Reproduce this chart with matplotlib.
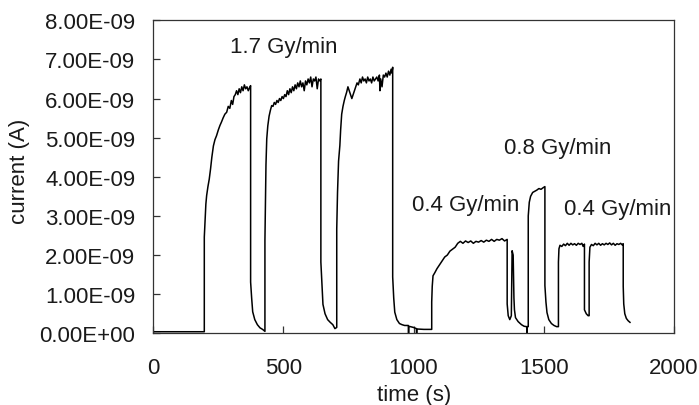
"""Courant mesure sous irradiation a differents debits de dose."""
import matplotlib
matplotlib.use("Agg")
import matplotlib.pyplot as plt
from matplotlib.ticker import FuncFormatter

plt.rcParams["font.family"] = ["Liberation Sans", "DejaVu Sans"]

# temps (s) et courant (nA)
time_s = [
    0, 196,
    # 1.7 Gy/min, palier 1
    196, 199, 202, 205, 210, 215, 220, 225, 231, 237, 243, 250, 256, 262, 268,
    275, 282, 288, 294, 300, 305, 310, 315, 320, 325, 330, 335, 340, 345, 350,
    355, 360, 365, 370, 374,
    374, 378, 382, 390, 400, 410, 420, 429,
    # palier 2
    429, 431, 433, 436, 440, 445, 450, 455, 460, 465, 470, 475, 480, 485, 490,
    495, 500, 505, 510, 515, 520, 525, 530, 535, 540, 545, 550, 555, 560, 565,
    570, 575, 580, 585, 590, 595, 600, 605, 610, 615, 620, 625, 630, 635, 640,
    644,
    644, 648, 652, 660, 670, 680, 690, 698, 705,
    # palier 3
    705, 708, 712, 717, 720, 724, 729, 734, 738, 743, 748, 753, 758, 763, 768,
    773, 778, 783, 788, 794, 799, 804, 809, 814, 819, 824, 829, 834, 839, 844,
    849, 854, 859, 864, 869, 871, 874, 879, 884, 889, 894, 899, 904, 909, 914,
    917, 920,
    920, 924, 928, 936, 946, 956, 966, 974, 980, 981, 982, 1000, 1011, 1012,
    1013, 1040, 1070,
    # 0.4 Gy/min
    1070, 1072, 1075, 1082, 1090, 1100, 1110, 1120, 1130, 1140, 1150, 1160,
    1170, 1180, 1190, 1200, 1210, 1220, 1230, 1240, 1250, 1260, 1270, 1280,
    1290, 1300, 1310, 1320, 1330, 1340, 1350, 1360,
    1360, 1364, 1370, 1376, 1379, 1383, 1386, 1388, 1392, 1402, 1415, 1425,
    1435, 1436, 1437, 1441,
    # 0.8 Gy/min
    1441, 1445, 1450, 1458, 1466, 1474, 1482, 1490, 1498, 1505,
    1505, 1509, 1513, 1520, 1530, 1540, 1550, 1557,
    # 0.4 Gy/min
    1557, 1559, 1563, 1570, 1577, 1584, 1591, 1598, 1605, 1612, 1619, 1626,
    1633, 1640, 1647, 1652, 1657,
    1657, 1664, 1671, 1675,
    1675, 1678, 1684, 1691, 1698, 1705, 1712, 1719, 1726, 1733, 1740, 1747,
    1754, 1761, 1768, 1775, 1782, 1789, 1796, 1802, 1806,
    1806, 1808, 1812, 1818, 1825, 1832,
]
current_na = [
    0.04, 0.04,
    2.46, 2.9, 3.3, 3.52, 3.75, 3.94, 4.2, 4.5, 4.79, 4.95, 5.05, 5.2, 5.31,
    5.4, 5.5, 5.6, 5.65, 5.8, 5.75, 5.95, 5.85, 6.05, 6.1, 6.2, 6.1, 6.25,
    6.15, 6.3, 6.2, 6.35, 6.25, 6.3, 6.2, 6.28, 6.33,
    1.31, 0.9, 0.55, 0.35, 0.22, 0.14, 0.1, 0.05,
    2.37, 3.4, 4.3, 4.97, 5.3, 5.55, 5.7, 5.82, 5.8, 5.9, 5.85, 5.95, 5.9, 6.0,
    5.95, 6.05, 6.0, 6.1, 6.05, 6.2, 6.1, 6.25, 6.15, 6.3, 6.2, 6.35, 6.25,
    6.4, 6.3, 6.45, 6.3, 6.4, 6.2, 6.45, 6.35, 6.5, 6.4, 6.55, 6.3, 6.5, 6.45,
    6.55, 6.25, 6.5, 6.45, 6.5,
    1.82, 1.3, 0.74, 0.5, 0.35, 0.28, 0.22, 0.12, 0.15,
    2.67, 3.6, 4.4, 4.8, 5.2, 5.6, 5.8, 5.95, 6.05, 6.16, 6.3, 6.2, 6.1, 6.0,
    6.1, 6.2, 6.3, 6.4, 6.35, 6.5, 6.4, 6.55, 6.45, 6.5, 6.4, 6.55, 6.45, 6.5,
    6.4, 6.55, 6.45, 6.5, 6.55, 6.45, 6.6, 6.2, 6.5, 6.3, 6.6, 6.55, 6.65,
    6.55, 6.7, 6.6, 6.75, 6.65, 6.8,
    1.44, 0.9, 0.54, 0.35, 0.25, 0.22, 0.2, 0.2, 0.2, 0.0, 0.18, 0.15, 0.12,
    0.0, 0.11, 0.1, 0.1,
    0.8, 1.2, 1.47, 1.55, 1.65, 1.75, 1.85, 1.95, 2.0, 2.1, 2.15, 2.2, 2.3,
    2.35, 2.3, 2.36, 2.32, 2.36, 2.3, 2.35, 2.33, 2.37, 2.33, 2.38, 2.35, 2.4,
    2.35, 2.4, 2.38, 2.42, 2.36, 2.4,
    0.75, 0.45, 0.35, 0.45, 2.11, 2.0, 0.9, 0.6, 0.4, 0.3, 0.22, 0.18, 0.17,
    0.0, 0.17, 0.17,
    3.0, 3.35, 3.5, 3.6, 3.63, 3.66, 3.7, 3.68, 3.72, 3.75,
    1.22, 0.8, 0.53, 0.35, 0.25, 0.2, 0.17, 0.17,
    1.82, 2.16, 2.25, 2.22, 2.28, 2.24, 2.3, 2.25, 2.3, 2.26, 2.29, 2.25, 2.3,
    2.27, 2.3, 2.22, 2.28,
    0.6, 0.5, 0.45, 0.45,
    1.82, 2.2, 2.27, 2.24, 2.3, 2.26, 2.3, 2.25, 2.29, 2.26, 2.3, 2.27, 2.31,
    2.26, 2.3, 2.25, 2.29, 2.27, 2.3, 2.26, 2.29,
    1.2, 0.75, 0.5, 0.38, 0.32, 0.28,
]

# etiquettes de debit de dose : (texte, t, courant en nA)
label_texts = ["1.7 Gy/min", "0.4 Gy/min", "0.8 Gy/min", "0.4 Gy/min"]
label_t = [500, 1201, 1553, 1784]
label_na = [7.32, 3.29, 4.74, 3.20]

x_ticks = [0, 500, 1000, 1500, 2000]
y_ticks_na = [0, 1, 2, 3, 4, 5, 6, 7, 8]

TEXT = "#1a1a1a"


def main() -> None:
    fig = plt.figure(figsize=(6.99, 4.06), dpi=100)
    ax = fig.add_axes([153.3 / 699, 1 - 334.3 / 406, 520.4 / 699, 313.0 / 406])

    ax.plot(time_s, [c * 1e-9 for c in current_na], color="black", lw=1.1)

    for txt, t, c in zip(label_texts, label_t, label_na):
        ax.text(t, c * 1e-9, txt, ha="center", va="center", fontsize=16, color=TEXT)

    ax.set_xlim(0, 2000)
    ax.set_ylim(0, 8e-9)
    ax.set_xticks(x_ticks)
    ax.set_yticks([v * 1e-9 for v in y_ticks_na])
    ax.yaxis.set_major_formatter(FuncFormatter(lambda v, _: f"{v:.2E}"))
    ax.tick_params(axis="both", direction="in", length=5, width=0.9,
                   labelsize=16, labelcolor=TEXT, color="#333333")
    ax.tick_params(axis="x", pad=17)
    ax.tick_params(axis="y", pad=13)
    for spine in ax.spines.values():
        spine.set_linewidth(0.9)
        spine.set_color("#333333")

    fig.text(414 / 699, 1 - 396 / 406, "time (s)", ha="center", va="center",
             fontsize=16, color=TEXT)
    fig.text(25 / 699, 1 - 171 / 406, "current (A)", ha="center", va="baseline",
             rotation=90, rotation_mode="anchor", fontsize=16, color=TEXT)

    fig.savefig("out.png", dpi=100)


if __name__ == "__main__":
    main()
